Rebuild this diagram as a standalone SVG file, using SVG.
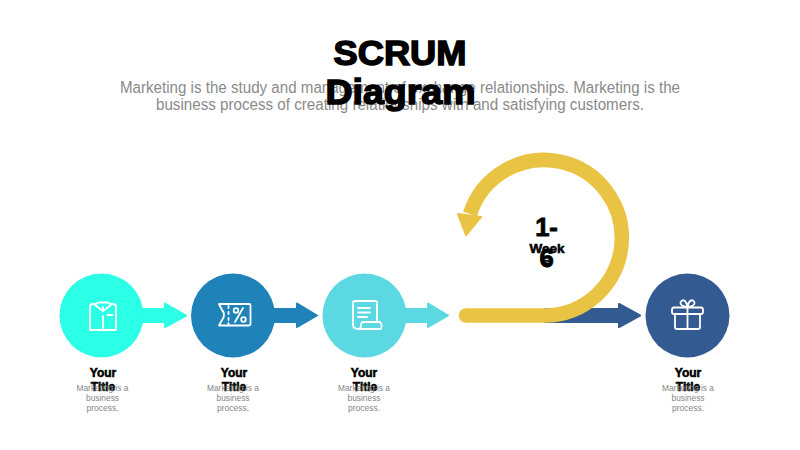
<svg xmlns="http://www.w3.org/2000/svg" width="800" height="450" viewBox="0 0 800 450">
<style>
text{text-anchor:middle;font-family:"Liberation Sans",Arial,sans-serif}
.h{font-size:35.500px;font-weight:700;fill:#000;stroke:#000;stroke-width:1.500}
.s{font-size:16px;fill:#8a8a8a}
.t{font-size:12px;font-weight:700;fill:#000;stroke:#000;stroke-width:.55}
.d{font-size:9.300px;fill:#858585}
.n{font-size:25.500px;font-weight:700;fill:#000;stroke:#000;stroke-width:.9}
.w{font-size:13.500px;font-weight:700;fill:#000;stroke:#000;stroke-width:.55}
.i{fill:none;stroke:#fff;stroke-width:1.800;stroke-linejoin:round;stroke-linecap:round}
.a{stroke-width:2;stroke-linejoin:round}
</style>
<rect width="800" height="450" fill="#fff"/>
<g id="subtitle"><text class="s" x="400" y="92.500" textLength="560" lengthAdjust="spacingAndGlyphs">Marketing is the study and management of exchange relationships. Marketing is the</text><text class="s" x="400" y="110" textLength="488" lengthAdjust="spacingAndGlyphs">business process of creating relationships with and satisfying customers.</text></g>
<g id="title"><text class="h" x="400" y="65" textLength="133" lengthAdjust="spacingAndGlyphs">SCRUM</text><text class="h" x="400.500" y="104" textLength="150" lengthAdjust="spacingAndGlyphs">Diagram</text></g>
<g id="connectors">
<path id="a1" class="a" d="M140 309H165V303.500L186 315.500L165 327V322H140Z" fill="#2bffe6" stroke="#2bffe6"/>
<path id="a2" class="a" d="M272 309H297V303.500L317 315.500L297 327V322H272Z" fill="#1f82b8" stroke="#1f82b8"/>
<path id="a3" class="a" d="M404 309H428V303.500L448 315.500L428 327V322H404Z" fill="#5bd8e2" stroke="#5bd8e2"/>
<path id="a4" class="a" d="M545 309H619V304L640 315.500L619 327V322H545Z" fill="#345a92" stroke="#345a92"/>
<path id="loop" d="M466 315.500H544A77.750 77.750 0 1 0 470 214" fill="none" stroke="#e9c344" stroke-width="14.500"/>
<circle cx="466" cy="315.500" r="7.250" fill="#e9c344"/>
<path id="loophead" class="a" d="M458 214L481 217L466 235Z" fill="#e9c344" stroke="#e9c344"/>
</g>
<g id="node1"><circle cx="101.500" cy="315.500" r="42" fill="#2bffe6"/>
<path class="i" d="M95 304H93Q90 304 90 307V330H116V307Q116 304 113 304H111M103 316V330M107.500 315H112.500M95 305L103 311L111 305L108 302.500H98ZM103 307V311"/>
<text class="t" x="103" y="377">Your</text><text class="t" x="103" y="391">Title</text>
<text class="d" x="102.500" y="391" textLength="52" lengthAdjust="spacingAndGlyphs">Marketing is a</text><text class="d" x="102.500" y="401" textLength="33" lengthAdjust="spacingAndGlyphs">business</text><text class="d" x="102.500" y="411" textLength="32" lengthAdjust="spacingAndGlyphs">process.</text></g>
<g id="node2"><circle cx="233" cy="315.500" r="42" fill="#1f82b8"/>
<path class="i" d="M219 304H249Q250.500 304 250.500 305.500V324Q250.500 325.500 249 325.500H219L222 320Q224 318 224 315Q224 312 222 310ZM228.500 306V308M228.500 312V314M228.500 318V320M228.500 323V324M235 322L243 308"/><circle class="i" cx="236" cy="310.500" r="2.300"/><circle class="i" cx="243.500" cy="319.500" r="2.300"/>
<text class="t" x="234" y="377">Your</text><text class="t" x="234" y="391">Title</text>
<text class="d" x="233" y="391" textLength="52" lengthAdjust="spacingAndGlyphs">Marketing is a</text><text class="d" x="233" y="401" textLength="33" lengthAdjust="spacingAndGlyphs">business</text><text class="d" x="233" y="411" textLength="32" lengthAdjust="spacingAndGlyphs">process.</text></g>
<g id="node3"><circle cx="364.500" cy="315.500" r="42" fill="#5bd8e2"/>
<path class="i" d="M359 329Q353 329 353 325V303Q353 301 355 301H375Q377 301 377 303V322M359 329H380Q382 329 381.500 325Q381 322 379 322H364Q361 322 361 325Q361 329 359 329ZM358 308H370M358 312.500H370M358 317H367"/>
<text class="t" x="364" y="377">Your</text><text class="t" x="365" y="391">Title</text>
<text class="d" x="364" y="391" textLength="52" lengthAdjust="spacingAndGlyphs">Marketing is a</text><text class="d" x="364" y="401" textLength="33" lengthAdjust="spacingAndGlyphs">business</text><text class="d" x="364" y="411" textLength="32" lengthAdjust="spacingAndGlyphs">process.</text></g>
<g id="node4"><circle cx="687.500" cy="315.500" r="42" fill="#345a92"/>
<path class="i" d="M674 307.500H701Q703 307.500 703 310V312Q703 314 701 314H674Q672 314 672 312V310Q672 307.500 674 307.500ZM675 314V327Q675 329 677 329H698Q700 329 700 327V314M687.500 307.500V329M687 307Q680 306 680.500 302.500Q682 299 685 301Q687 303 687.500 307.500Q688 303 690 301Q693 299 694.500 302.500Q695 306 688 307"/>
<text class="t" x="688" y="377">Your</text><text class="t" x="688" y="391">Title</text>
<text class="d" x="688" y="391" textLength="52" lengthAdjust="spacingAndGlyphs">Marketing is a</text><text class="d" x="688" y="401" textLength="33" lengthAdjust="spacingAndGlyphs">business</text><text class="d" x="688" y="411" textLength="32" lengthAdjust="spacingAndGlyphs">process.</text></g>
<g id="duration"><text class="w" x="547" y="253">Week</text><text class="w" x="546.500" y="267">s</text><text class="n" x="546.500" y="236">1-</text><text class="n" x="546.500" y="267">6</text></g>
</svg>
